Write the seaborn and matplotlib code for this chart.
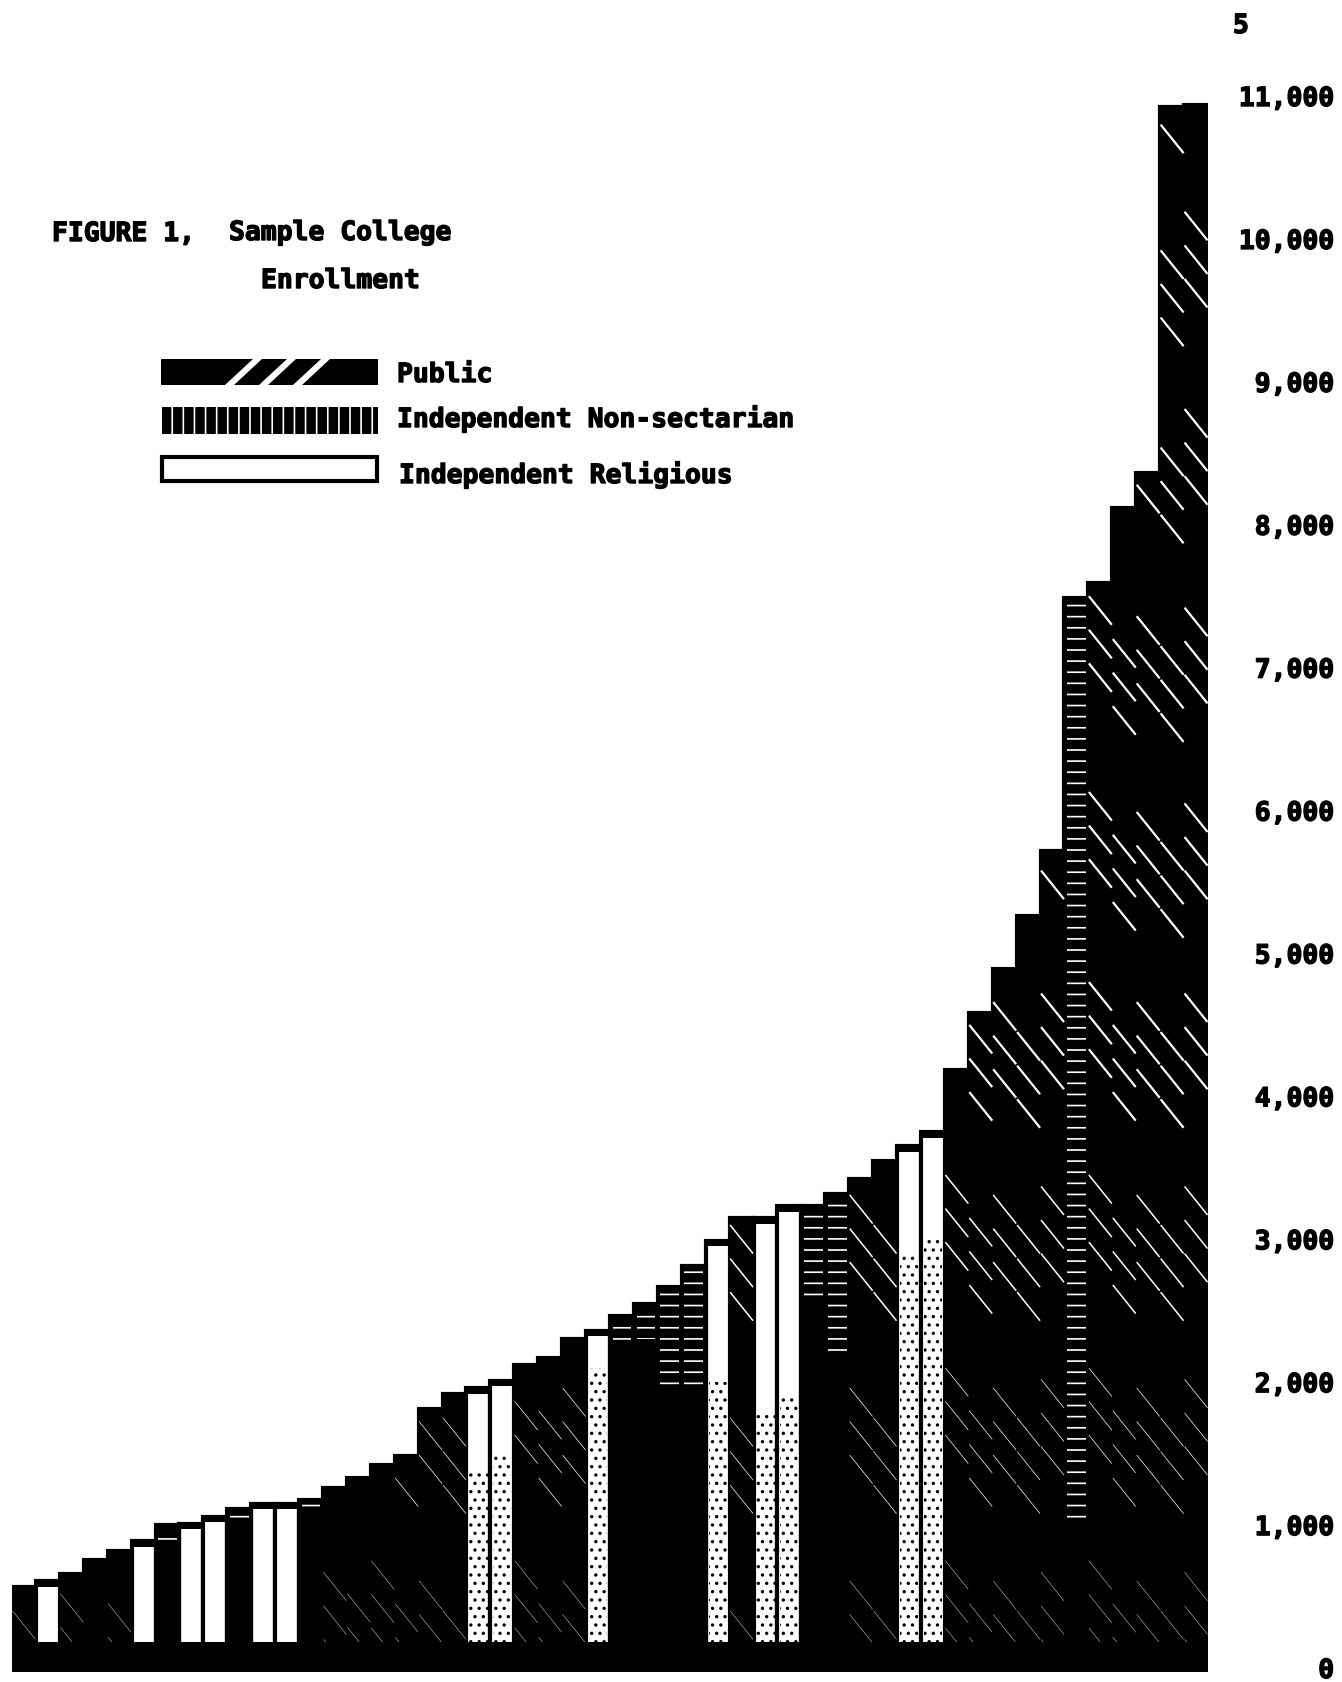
import matplotlib
matplotlib.use("Agg")
import matplotlib.pyplot as plt
import matplotlib.patheffects as pe
import pandas as pd
import seaborn as sns
from matplotlib.patches import Polygon, Rectangle

W, H = 1342, 1683

enrollment = [570, 610, 660, 755, 820, 890, 1000, 1010, 1060, 1115,
              1150, 1150, 1175, 1260, 1330, 1420, 1480, 1815, 1920, 1960,
              2010, 2120, 2170, 2300, 2360, 2465, 2550, 2665, 2815, 2990,
              3150, 3150, 3230, 3235, 3320, 3420, 3550, 3650, 3750, 4185,
              4580, 4890, 5265, 5720, 7490, 7590, 8120, 8365, 10920, 10940]
control = ["Public", "Religious", "Public", "Non-sectarian", "Public",
           "Religious", "Non-sectarian", "Religious", "Religious", "Non-sectarian",
           "Religious", "Religious", "Non-sectarian", "Public", "Public",
           "Public", "Public", "Public", "Public", "Religious",
           "Religious", "Public", "Public", "Public", "Religious",
           "Non-sectarian", "Non-sectarian", "Non-sectarian", "Non-sectarian", "Religious",
           "Public", "Religious", "Religious", "Non-sectarian", "Non-sectarian",
           "Public", "Public", "Religious", "Religious", "Public",
           "Public", "Public", "Public", "Public", "Non-sectarian",
           "Public", "Public", "Public", "Public", "Public"]
college = [str(i + 1) for i in range(len(enrollment))]

tick_values = [0, 1000, 2000, 3000, 4000, 5000, 6000, 7000, 8000, 9000, 10000, 11000]

# the slashes on public bars come in groups of three, ink eats the low ones
slash_groups = [11420, 10070, 8690, 7300, 5930, 4600, 3250, 1900, 550]
slash_width = [0.8, 0.8, 0.8, 0.8, 0.8, 0.8, 0.55, 0.25, 0.15]
slash_step = 235
slash_drop = 200
column_shift = [-150, 120, -30, 200, -100, 60]
# lowest dash visible on the non-sectarian bars, by college
ns_floor = {"4": 690, "7": 880, "10": 1000, "13": 1090, "26": 2250, "27": 2300,
            "28": 1950, "29": 1950, "34": 2600, "35": 2190, "45": 1000}
# highest speck on the religious bars, by college
speck_top = {"20": 1380, "21": 1500, "25": 2100, "30": 2000, "32": 1800,
             "33": 1900, "38": 2900, "39": 3000}

df = pd.DataFrame({"college": college, "enrollment": enrollment, "control": control})

sns.set_theme(style="white")
plt.rcParams["font.family"] = ["DejaVu Sans Mono"]
plt.rcParams["font.weight"] = "bold"
plt.rcParams["hatch.linewidth"] = 0.6
heavy = [pe.withStroke(linewidth=0.5, foreground="black")]

fig = plt.figure(figsize=(W / 200, H / 200), dpi=200, facecolor="white")
ax = fig.add_axes([12 / W, 1 - 1673 / H, (1208 - 12) / W, (1673 - 60) / H])

sns.barplot(data=df, x="college", y="enrollment", hue="control", dodge=False, width=1,
            palette={"Public": "black", "Non-sectarian": "black", "Religious": "white"},
            edgecolor="black", linewidth=1.5, legend=False, zorder=2, ax=ax)

for i, row in df.iterrows():
    if row.control == "Public":
        shift = column_shift[i % len(column_shift)]
        for top, lw in zip(slash_groups, slash_width):
            for k in range(3):
                y = top + shift - k * slash_step
                if y < row.enrollment - 20:
                    ax.plot([i - 0.48, i + 0.48], [y, y - slash_drop], color="white",
                            linewidth=lw, solid_capstyle="butt", zorder=3)
    elif row.control == "Non-sectarian":
        lo = ns_floor[row.college]
        ax.bar(i, row.enrollment - 30 - lo, bottom=lo, width=0.78, color="black",
               edgecolor="white", hatch="---", linewidth=0, zorder=3)
    else:
        # religious bars have a thick cap
        ax.bar(i, 40, bottom=row.enrollment - 40, width=1, color="black", linewidth=0, zorder=3)
        if row.college in speck_top:
            ax.bar(i, speck_top[row.college] - 180, bottom=180, width=0.76, color="none",
                   edgecolor="black", hatch="....", linewidth=0, zorder=3)

# heavy base line under all the bars
ax.axhspan(-28, 182, color="black", zorder=5, linewidth=0)

ax.set_xlim(-0.5, len(college) - 0.5)
ax.set_ylim(-28, 11259)
ax.set_xlabel("")
ax.set_ylabel("")
ax.set_xticks([])
ax.yaxis.tick_right()
ax.set_yticks(tick_values)
ax.set_yticklabels([f"{v:,}" for v in tick_values], fontsize=9.5, fontweight="bold", color="black")
ax.tick_params(axis="y", length=0, pad=45.4)
for lab in ax.get_yticklabels():
    lab.set_horizontalalignment("right")
    lab.set_verticalalignment("center_baseline")
    lab.set_path_effects(heavy)
sns.despine(ax=ax, left=True, bottom=True, right=True, top=True)


def put_text(x, y, s):
    fig.text(x / W, 1 - y / H, s, fontsize=9.5, fontweight="bold", va="center", color="black",
             path_effects=heavy)


def box(x0, y0, x1, y1, **kw):
    fig.add_artist(Rectangle((x0 / W, 1 - y1 / H), (x1 - x0) / W, (y1 - y0) / H,
                             transform=fig.transFigure, **kw))


put_text(1233, 27, "5")
put_text(52, 235, "FIGURE 1,")
put_text(229, 234, "Sample College")
put_text(261, 282, "Enrollment")

# legend, drawn by hand like the original
box(161, 360, 378, 386, facecolor="black", edgecolor="black", linewidth=0)
for x in [225, 259, 293]:
    fig.add_artist(Polygon([((x + 28) / W, 1 - 360 / H), ((x + 37) / W, 1 - 360 / H),
                            ((x + 9) / W, 1 - 386 / H), (x / W, 1 - 386 / H)],
                           transform=fig.transFigure, facecolor="white", edgecolor="none"))
box(161, 408, 378, 435, facecolor="black", edgecolor="white", hatch="|||", linewidth=0)
box(162, 458, 377, 482, facecolor="white", edgecolor="black", linewidth=1.5)

put_text(397, 376, "Public")
put_text(397, 420, "Independent Non-sectarian")
put_text(399, 476, "Independent Religious")

fig.savefig("out.png", dpi=200, facecolor="white")
